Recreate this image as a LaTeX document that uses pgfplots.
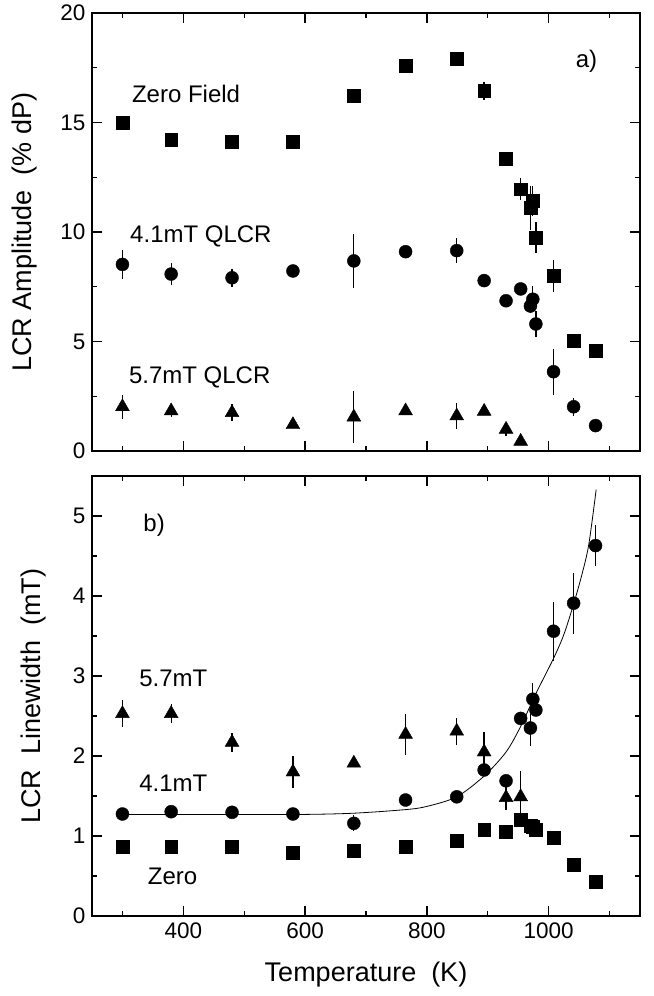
\documentclass[border=0pt]{standalone}
\usepackage{fontspec}
\setmainfont{Liberation Sans}
\usepackage{pgfplots}
\usepackage{pgfplotstable}
\pgfplotsset{compat=1.18}

\pgfplotstableread{
x y e
300 15.00 0
380 14.23 0.15
480 14.12 0.25
580 14.12 0
680 16.22 0
765 17.60 0
849 17.90 0
894 16.45 0.40
930 13.33 0.30
954 11.95 0.50
970 11.11 1.00
974 11.42 0.70
979 9.74 0.70
1008 7.99 0.75
1041 5.04 0.20
1077 4.58 0
}\topsq

\pgfplotstableread{
x y e
300 8.52 0.65
380 8.08 0.50
480 7.91 0.40
580 8.22 0.15
680 8.68 1.23
765 9.10 0
849 9.15 0.58
894 7.78 0
930 6.86 0
954 7.40 0.20
970 6.62 0.30
974 6.93 0.60
979 5.80 0.60
1008 3.62 1.05
1041 2.02 0.40
1077 1.16 0
}\topci

\pgfplotstableread{
x y e
300 2.02 0.55
380 1.83 0.30
480 1.75 0.40
580 1.20 0.15
680 1.55 1.20
765 1.83 0.10
849 1.60 0.60
894 1.81 0.15
930 0.99 0.30
954 0.44 0
}\toptr

\pgfplotstableread{
x y e
300 0.87 0
380 0.87 0
480 0.87 0
580 0.79 0
680 0.82 0
765 0.87 0
849 0.94 0
894 1.08 0
930 1.05 0
954 1.20 0
970 1.13 0
974 1.12 0
979 1.08 0
1008 0.98 0
1041 0.64 0
1077 0.43 0
}\botsq

\pgfplotstableread{
x y e
300 1.275 0
380 1.304 0
480 1.296 0
580 1.275 0
680 1.158 0.10
765 1.450 0
849 1.490 0
894 1.825 0
930 1.690 0
954 2.470 0
970 2.350 0.22
974 2.710 0.20
979 2.575 0
1008 3.560 0.37
1041 3.910 0.38
1077 4.630 0.26
}\botci

\pgfplotstableread{
x y e
300 2.53 0.17
380 2.53 0.12
480 2.17 0.12
580 1.80 0.20
680 1.91 0.05
765 2.27 0.26
849 2.31 0.17
894 2.05 0.25
930 1.48 0.15
954 1.49 0.32
}\bottr

\pgfplotstableread{
x y
300 1.27
400 1.27
500 1.27
600 1.27
680 1.285
765 1.33
800 1.37
849 1.49
894 1.75
930 2.05
954 2.37
979 2.78
1008 3.22
1025 3.52
1041 3.90
1055 4.28
1066 4.65
1078 5.33
}\fitcurve

\pgfplotsset{
  base/.style={
    width=548pt, height=438pt, scale only axis,
    xmin=250, xmax=1150,
    xtick={400,600,800,1000},
    minor xtick={300,500,700,900,1100},
    tick pos=both, tick align=inside,
    major tick length=10pt, minor tick length=5pt,
    axis line style={line width=1.5pt},
    every tick/.style={black, line width=1.3pt},
    tick label style={font=\fontsize{22.5}{26}\selectfont},
    xticklabel style={yshift=-3pt},
    yticklabel style={xshift=-3pt},
    label style={font=\fontsize{27}{30}\selectfont},
    /pgf/number format/assume math mode=true,
    /pgf/number format/1000 sep={},
    clip=false,
  },
  errs/.style={only marks, black,
    error bars/.cd, y dir=both, y explicit, error mark=none,
    error bar style={line width=1.3pt, black}},
  sq/.style={mark=square*, mark size=6.4pt, errs},
  ci/.style={mark=*, mark size=6.5pt, errs},
  tr/.style={mark=triangle*, mark size=8pt, errs},
}
\tikzset{ann/.style={anchor=west, font=\fontsize{24}{28}\selectfont}}

\begin{document}
\begin{tikzpicture}
\begin{axis}[base, name=top,
  ymin=0, ymax=20, ytick={0,5,10,15,20}, minor ytick={2.5,7.5,12.5,17.5},
  xticklabels={},
  ylabel={LCR Amplitude~~(\% dP)},
  ylabel style={at={([xshift=-67pt]rel axis cs:0,0.5)}, anchor=center}]
  \addplot[sq] table[x=x,y=y,y error=e] {\topsq};
  \addplot[ci] table[x=x,y=y,y error=e] {\topci};
  \addplot[tr] table[x=x,y=y,y error=e] {\toptr};
  \node[ann] at (axis cs:310,16.3) {Zero Field};
  \node[ann] at (axis cs:307,9.8) {4.1mT QLCR};
  \node[ann] at (axis cs:305,3.35) {5.7mT QLCR};
  \node[font=\fontsize{24}{28}\selectfont] at (axis cs:1062,17.8) {a)};
\end{axis}
\begin{axis}[base, name=bot, at={(top.south west)}, anchor=north west, yshift=-25pt,
  height=440pt,
  ymin=0, ymax=5.5, ytick={0,1,2,3,4,5}, minor ytick={0.5,1.5,2.5,3.5,4.5},
  xlabel={Temperature~~(K)},
  xlabel style={at={([yshift=-59pt]rel axis cs:0.5,0)}, anchor=center},
  ylabel={LCR~~Linewidth~~(mT)},
  ylabel style={at={([xshift=-58pt]rel axis cs:0,0.5)}, anchor=center}]
  \addplot[black, line width=0.8pt, smooth, no marks] table[x=x,y=y] {\fitcurve};
  \addplot[sq] table[x=x,y=y,y error=e] {\botsq};
  \addplot[ci] table[x=x,y=y,y error=e] {\botci};
  \addplot[tr] table[x=x,y=y,y error=e] {\bottr};
  \node[font=\fontsize{24}{28}\selectfont] at (axis cs:352,4.89) {b)};
  \node[ann] at (axis cs:322,2.97) {5.7mT};
  \node[ann] at (axis cs:322,1.66) {4.1mT};
  \node[ann] at (axis cs:336,0.49) {Zero};
\end{axis}
\pgfresetboundingbox
\path ([xshift=-92pt,yshift=13pt]top.north west) rectangle ([xshift=14pt,yshift=-80pt]bot.south east);
\end{tikzpicture}
\end{document}
